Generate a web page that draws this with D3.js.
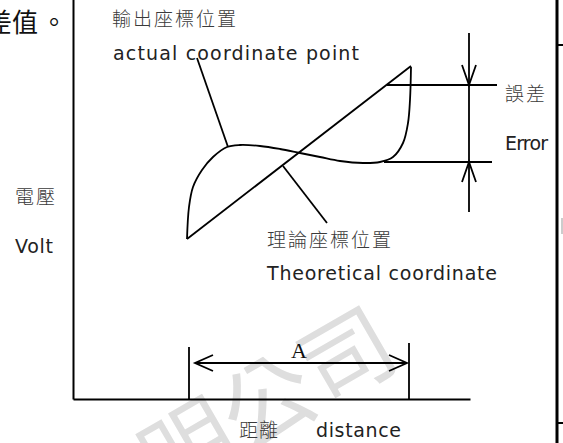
<!DOCTYPE html>
<html>
<head>
<meta charset="utf-8">
<script src="https://cdn.jsdelivr.net/npm/d3@7"></script>
<style>
  body { margin: 0; background: #fff; }
  svg { display: block; }
  .cjk { font-family: "Noto Sans CJK TC", sans-serif; fill: #3a3a3a; font-weight: 300; }
  .lat { font-family: "DejaVu Sans", sans-serif; fill: #222; }
</style>
</head>
<body>
<div class="draw-section"></div>
<script>
// values are in "diagram units": distance on x, volt on y, origin at the axes corner
const theoretical = [[114, 160], [338, 333]];
const actual = [
  [114, 160], [116, 192], [120, 212], [129, 229], [140, 242], [154, 252],
  [167, 254], [187, 253], [207, 250], [227, 246], [247, 242], [267, 238],
  [290, 236], [307, 237], [320, 242], [330, 256], [335, 276], [337, 299],
  [338, 332]
];
const actualLeader = [[124, 341], [155, 252]];
const theoryLeader = [[210, 233], [254, 176]];
const errorLevels = [314, 237];
const errorLinesX = [[314, 424], [311, 419]];
const errorX = 396;
const errorExtent = [187, 366];
const spanA = [116, 336];
const spanTicks = [52, 56];
const spanY = 36;

const labels = [
  { text: '輸出座標位置', x: 112, y: 26, cls: 'cjk', size: 19, len: 124 },
  { text: 'actual coordinate point', x: 113, y: 60, cls: 'lat', size: 19, len: 246 },
  { text: '誤差', x: 505, y: 101, cls: 'cjk', size: 19, len: 40 },
  { text: 'Error', x: 505, y: 150, cls: 'lat', size: 19, len: 43 },
  { text: '電壓', x: 15, y: 204, cls: 'cjk', size: 19, len: 40 },
  { text: 'Volt', x: 15, y: 253, cls: 'lat', size: 19, len: 38 },
  { text: '理論座標位置', x: 267, y: 247, cls: 'cjk', size: 19, len: 124 },
  { text: 'Theoretical coordinate', x: 267, y: 280, cls: 'lat', size: 19, len: 230 },
  { text: '距離', x: 239, y: 437, cls: 'cjk', size: 19, len: 39 },
  { text: 'distance', x: 316, y: 437, cls: 'lat', size: 19, len: 85 }
];

const W = 563, H = 443;
const svg = d3.select('.draw-section').append('svg')
  .attr('width', W).attr('height', H);

const x = d3.scaleLinear().domain([0, 400]).range([73, 473]);
const y = d3.scaleLinear().domain([0, 400]).range([399, -1]);

// watermark
svg.append('text')
  .attr('transform', 'translate(264,396) rotate(-30)')
  .attr('text-anchor', 'middle')
  .attr('dominant-baseline', 'central')
  .style('font-family', '"Noto Sans CJK TC", sans-serif')
  .style('font-size', '92px')
  .style('fill', '#dedede')
  .text('明公司');

// page fragment at the top left
svg.append('text')
  .attr('x', -14).attr('y', 32)
  .style('font-family', '"Noto Sans CJK TC", serif')
  .style('font-size', '26px')
  .style('fill', '#111')
  .text('差值');
svg.append('text')
  .attr('x', 54).attr('y', 32)
  .attr('text-anchor', 'middle')
  .style('font-family', '"Noto Sans CJK TC", serif')
  .style('font-size', '26px')
  .style('fill', '#111')
  .text('。');

// right border of the page
svg.append('line').attr('x1', 557).attr('x2', 557).attr('y1', 0).attr('y2', H)
  .attr('stroke', '#000').attr('stroke-width', 3);
svg.selectAll('line.edge').data([45, 423]).enter().append('line')
  .attr('class', 'edge')
  .attr('x1', 557).attr('x2', W).attr('y1', d => d).attr('y2', d => d)
  .attr('stroke', '#000').attr('stroke-width', 2);
svg.append('line').attr('x1', 562).attr('x2', 562).attr('y1', 218).attr('y2', 234)
  .attr('stroke', '#ccc').attr('stroke-width', 2);

// axes: bare domain lines
const xAxis = d3.axisBottom(x.copy().domain([0, 397]).range([x(0), x(397)])).tickValues([]).tickSizeOuter(0);
const yAxis = d3.axisLeft(y).tickValues([]).tickSizeOuter(0);
svg.append('g').attr('transform', `translate(0,${y(0)})`).call(xAxis);
svg.append('g').attr('transform', `translate(${x(0)},0)`).call(yAxis);
svg.selectAll('.domain').attr('stroke', '#000').attr('stroke-width', 2);

const line = d3.line().x(d => x(d[0])).y(d => y(d[1]));
const curve = d3.line().x(d => x(d[0])).y(d => y(d[1])).curve(d3.curveCatmullRom.alpha(0.5));

const ink = g => g.attr('fill', 'none').attr('stroke', '#000').attr('stroke-width', 1.8);

svg.append('path').attr('d', line(theoretical)).call(ink);
svg.append('path').attr('d', curve(actual)).call(ink);
svg.append('path').attr('d', line(actualLeader)).call(ink);
svg.append('path').attr('d', line(theoryLeader)).call(ink);

// error band
errorLevels.forEach((lv, i) => {
  svg.append('path').attr('d', line([[errorLinesX[i][0], lv], [errorLinesX[i][1], lv]])).call(ink);
});
svg.append('path').attr('d', line([[errorX, errorExtent[0]], [errorX, errorExtent[1]]])).call(ink);
svg.append('path').attr('d', line([[errorX - 7, errorLevels[0] + 20], [errorX, errorLevels[0]], [errorX + 7, errorLevels[0] + 20]])).call(ink);
svg.append('path').attr('d', line([[errorX - 7, errorLevels[1] - 20], [errorX, errorLevels[1]], [errorX + 7, errorLevels[1] - 20]])).call(ink);

// span A
spanA.forEach((sx, i) => {
  svg.append('path').attr('d', line([[sx, 0], [sx, spanTicks[i]]])).call(ink);
});
const a0 = spanA[0] + 6, a1 = spanA[1] - 2;
svg.append('path').attr('d', line([[a0, spanY], [a1, spanY]])).call(ink);
svg.append('path').attr('d', line([[a0 + 18, spanY + 8], [a0, spanY], [a0 + 18, spanY - 8]])).call(ink);
svg.append('path').attr('d', line([[a1 - 18, spanY + 8], [a1, spanY], [a1 - 18, spanY - 8]])).call(ink);
svg.append('text')
  .attr('x', x((spanA[0] + spanA[1]) / 2)).attr('y', y(spanY) - 5)
  .attr('text-anchor', 'middle')
  .style('font-family', '"Liberation Serif", serif')
  .style('font-size', '22px')
  .style('fill', '#111')
  .text('A');

svg.selectAll('text.lbl').data(labels).enter().append('text')
  .attr('class', d => 'lbl ' + d.cls)
  .attr('x', d => d.x).attr('y', d => d.y)
  .attr('textLength', d => d.len)
  .attr('lengthAdjust', 'spacing')
  .style('font-size', d => d.size + 'px')
  .text(d => d.text);
</script>
</body>
</html>
